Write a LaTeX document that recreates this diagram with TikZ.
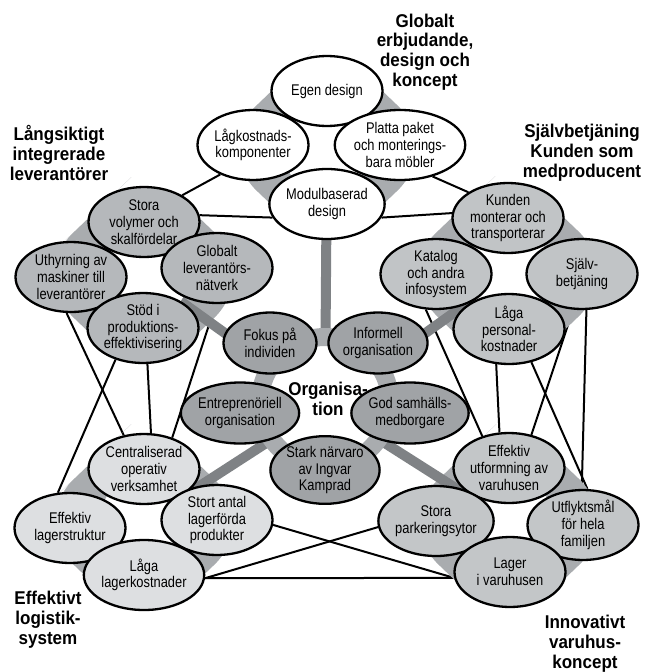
\documentclass[tikz,border=0pt]{standalone}
\usepackage{fontspec}
\setmainfont{Liberation Sans}
\newfontfamily\ideafont[FakeStretch=0.83]{Liberation Sans}
\newfontfamily\headfont[FakeStretch=0.92]{Liberation Sans}
\usetikzlibrary{shapes.geometric}
\definecolor{bandgray}{HTML}{A9ACAF}
\definecolor{spokegray}{HTML}{7F8285}
\definecolor{orgfill}{HTML}{A0A3A6}
\definecolor{levfill}{HTML}{B5B8BB}
\definecolor{kundfill}{HTML}{C1C4C6}
\definecolor{logfill}{HTML}{DDDFE1}
\definecolor{varufill}{HTML}{C3C6C8}
\pgfdeclarelayer{links}
\pgfdeclarelayer{bands}
\pgfsetlayers{links,bands,main}
\begin{document}
\begin{tikzpicture}[x=1pt,y=-1pt,
	idea/.style={ellipse,draw,line width=2.3pt,inner sep=0pt,
		minimum width=111pt,minimum height=70pt,align=center,
		font=\ideafont\fontsize{15.5}{16.7}\selectfont},
	orgidea/.style={idea,fill=orgfill,minimum width=93pt,minimum height=61pt},
	heading/.style={align=center,font=\headfont\fontsize{18.5}{19.8}\selectfont\bfseries},
	link/.style={line width=2pt},
	band/.style={fill=bandgray,rounded corners=62pt},
	spoke/.style={draw=spokegray,line width=10pt}]
\useasboundingbox (0,0) rectangle (650,672);
\def\banddiamond{(-57.5,-55) -- (0,-110) -- (115,0) -- (0,110) -- (-115,0) -- cycle}
\def\gap{(0,0) circle (45pt)}

\coordinate (topc) at (327,148);
\coordinate (leftc) at (144,275);
\coordinate (rightc) at (508,274);
\coordinate (blc) at (144,522);
\coordinate (brc) at (509,522);
\coordinate (orgc) at (325,405);

\begin{pgfonlayer}{bands}
\foreach \c in {topc,leftc,rightc,blc,brc}
	\fill[band,shift={(\c)}] \banddiamond;
\foreach \c in {topc,leftc,rightc,blc,brc}
	\draw[spoke] (orgc) -- (\c);
\foreach \c in {topc,leftc,rightc,blc,brc}
	\fill[white,shift={(\c)}] \gap;
\end{pgfonlayer}

\draw[draw=bandgray,line width=18pt,fill=white] (325,402) circle (65pt);

\node[idea,fill=white] (egen) at (327,91) {Egen design};
\node[idea,fill=white] (lagkost) at (253,145) {Lågkostnads-\\komponenter};
\node[idea,fill=white] (platta) at (400,145) {Platta paket\\och monterings-\\bara möbler};
\node[idea,fill=white] (modul) at (327,204) {Modulbaserad\\design};

\node[idea,fill=levfill] (storavol) at (144,222) {Stora\\volymer och\\skalfördelar};
\node[idea,fill=levfill] (uthyr) at (71,277) {Uthyrning av\\maskiner till\\leverantörer};
\node[idea,fill=levfill] (globlev) at (217,268) {Globalt\\leverantörs-\\nätverk};
\node[idea,fill=levfill] (stod) at (143,328) {Stöd i\\produktions-\\effektivisering};

\node[idea,fill=kundfill] (kunden) at (508,218) {Kunden\\monterar och\\transporterar};
\node[idea,fill=kundfill] (katalog) at (436,274) {Katalog\\och andra\\infosystem};
\node[idea,fill=kundfill] (sjalv) at (582,274) {Själv-\\betjäning};
\node[idea,fill=kundfill] (lagapers) at (509,329) {Låga\\personal-\\kostnader};

\node[orgidea] (fokus) at (270,343) {Fokus på\\individen};
\node[orgidea] (informell) at (378,343) {Informell\\organisation};
\node[orgidea] (entrep) at (240,413) {Entreprenöriell\\organisation};
\node[orgidea] (god) at (410,413) {God samhälls-\\medborgare};
\node[orgidea] (stark) at (325,470) {Stark närvaro\\av Ingvar\\Kamprad};

\node[idea,fill=logfill] (central) at (144,469) {Centraliserad\\operativ\\verksamhet};
\node[idea,fill=logfill] (efflager) at (70,528) {Effektiv\\lagerstruktur};
\node[idea,fill=logfill] (stortantal) at (217,520) {Stort antal\\lagerförda\\produkter};
\node[idea,fill=logfill] (lagalager) at (144,575) {Låga\\lagerkostnader};

\node[idea,fill=varufill] (effutf) at (509,468) {Effektiv\\utformning av\\varuhusen};
\node[idea,fill=varufill] (parkering) at (436,521) {Stora\\parkeringsytor};
\node[idea,fill=varufill] (utflykt) at (583,525) {Utflyktsmål\\för hela\\familjen};
\node[idea,fill=varufill] (lagerv) at (510,572) {Lager\\i varuhusen};

\begin{pgfonlayer}{links}
\draw[link] (lagkost.222) -- (storavol.35);
\draw[link] (modul.194) -- (storavol.7);
\draw[link] (platta.316) -- (kunden.147);
\draw[link] (modul.346) -- (kunden.175);
\draw[link] (uthyr.263) -- (central.121);
\draw[link] (stod.229) -- (efflager.109);
\draw[link] (stod.277) -- (central.79);
\draw[link] (globlev.268) -- (central.48);
\draw[link] (katalog.254) -- (effutf.130);
\draw[link] (lagapers.250) -- (effutf.105);
\draw[link] (lagapers.304) -- (utflykt.83);
\draw[link] (sjalv.277) -- (utflykt.92);
\draw[link] (sjalv.256) -- (effutf.56);
\draw[link] (stortantal.355) -- (lagerv.186);
\draw[link] (lagalager.357) -- (parkering.186);
\draw[link] (lagalager.357) -- (lagerv.186);
\end{pgfonlayer}

\node[heading] (hglobal) at (425,52) {Globalt\\erbjudande,\\design och\\koncept};
\node[heading] (hlev) at (59,153) {Långsiktigt\\integrerade\\leverantörer};
\node[heading] (hsjalv) at (582,153) {Självbetjäning\\Kunden som\\medproducent};
\node[heading] (hlogistik) at (48,620) {Effektivt\\logistik-\\system};
\node[heading] (hvaruhus) at (585,644) {Innovativt\\varuhus-\\koncept};
\node[heading] (horg) at (328,399) {Organisa-\\tion};
\end{tikzpicture}
\end{document}
